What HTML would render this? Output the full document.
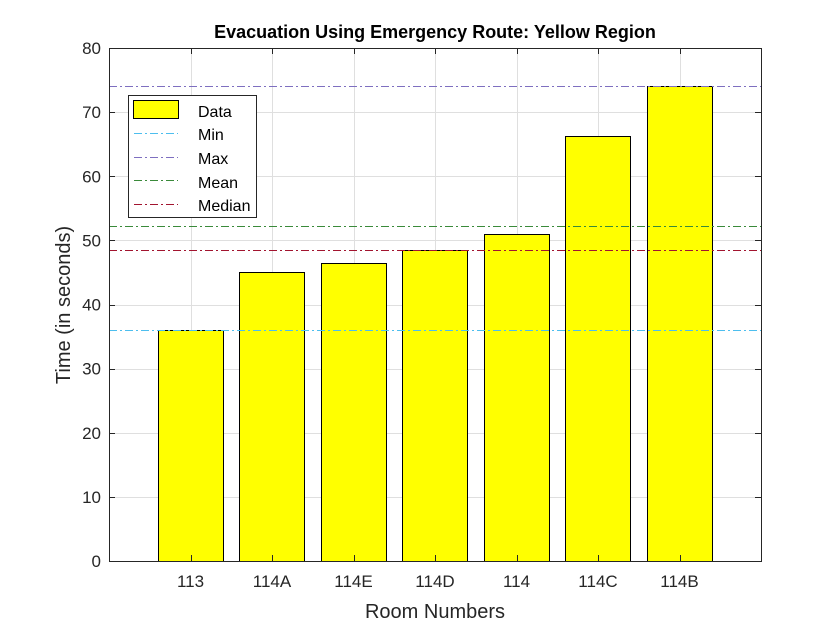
<!DOCTYPE html>
<html><head><meta charset="utf-8"><style>body{margin:0;background:#fff}svg text{font-family:"Liberation Sans",sans-serif}</style></head>
<body>
<svg width="840" height="630" xmlns="http://www.w3.org/2000/svg" id="c">
<rect width="840" height="630" fill="#fff"/>
</svg>
<script>
const categories=["113","114A","114E","114D","114","114C","114B"];
const values=[36.1,45.1,46.4,48.5,51.0,66.2,74.1];
const yTicks=[0,10,20,30,40,50,60,70,80];
const refNames=["Min","Max","Mean","Median"];
const refValues=[36.1,74.1,52.3,48.5];
const refColors=["#4dbeee","#7e6fc0","#3a8a3a","#a2142f"];
const L=109,R=761,T=48,B=561;
const X=i=>L+(i+1)*(R-L)/8;
const Y=v=>B-v*(B-T)/80;
const svg=document.getElementById('c');
const NS="http://www.w3.org/2000/svg";
function mk(t,a,p){const e=document.createElementNS(NS,t);for(const k in a)e.setAttribute(k,a[k]);(p||svg).appendChild(e);return e;}
mk('rect',{x:L,y:T,width:R-L,height:B-T,fill:'#fff'});
const grid=mk('g',{});


yTicks.forEach(v=>mk('line',{x1:L,x2:R,y1:Math.round(Y(v))+0.5,y2:Math.round(Y(v))+0.5,stroke:'#dfdfdf','stroke-width':1},grid));
categories.forEach((c,i)=>mk('line',{x1:Math.round(X(i))+0.5,x2:Math.round(X(i))+0.5,y1:T,y2:B,stroke:'#dfdfdf','stroke-width':1},grid));
const bw=0.8*(R-L)/8;
values.forEach((v,i)=>{const r=mk('rect',{x:Math.round(X(i)-bw/2)+0.5,y:Math.round(Y(v))+0.5,width:Math.round(bw),height:B-Math.round(Y(v)),fill:'#ffff00',stroke:'#000','stroke-width':1});

});
refValues.forEach((v,i)=>{const y=Math.round(Y(v))+0.5;const l=mk('line',{x1:L,x2:R,y1:y,y2:y,stroke:refColors[i],'stroke-width':1,'stroke-dasharray':'8 3 2 3'});

});
mk('rect',{x:L+0.5,y:T+0.5,width:R-L,height:B-T,fill:'none',stroke:'#262626','stroke-width':1});
yTicks.forEach(v=>{const y=Math.round(Y(v))+0.5;mk('line',{x1:L,x2:L+6,y1:y,y2:y,stroke:'#262626'});mk('line',{x1:R,x2:R-6,y1:y,y2:y,stroke:'#262626'});
const t=mk('text',{x:L-8,y:Y(v)+6,'text-anchor':'end','font-size':17,fill:'#262626'});t.textContent=v;

});
categories.forEach((c,i)=>{const x=Math.round(X(i))+0.5;mk('line',{x1:x,x2:x,y1:B,y2:B-6,stroke:'#262626'});mk('line',{x1:x,x2:x,y1:T,y2:T+6,stroke:'#262626'});
const t=mk('text',{x:X(i),y:B+26,'text-anchor':'middle','font-size':17,fill:'#262626'});t.textContent=c;

});
</script>
<svg style="position:absolute;left:0;top:0" width="840" height="630" xmlns="http://www.w3.org/2000/svg">
<text x="435" y="38" text-anchor="middle" font-size="18" font-weight="bold" fill="#000">Evacuation Using Emergency Route: Yellow Region</text>
<text x="435" y="618" text-anchor="middle" font-size="20" fill="#262626">Room Numbers</text>
<text transform="translate(70,305) rotate(-90)" text-anchor="middle" font-size="20" fill="#262626">Time (in seconds)</text>
<g>
<rect x="128.5" y="95.5" width="128" height="122" fill="#fff" stroke="#262626"/>
<rect x="133.5" y="100.5" width="45" height="18" fill="#ffff00" stroke="#000"/>
<line x1="134" x2="178" y1="133.5" y2="133.5" stroke="#4dbeee" stroke-dasharray="8 3 2 3"/>
<line x1="134" x2="178" y1="157.5" y2="157.5" stroke="#7e6fc0" stroke-dasharray="8 3 2 3"/>
<line x1="134" x2="178" y1="180.5" y2="180.5" stroke="#3a8a3a" stroke-dasharray="8 3 2 3"/>
<line x1="134" x2="178" y1="204.5" y2="204.5" stroke="#a2142f" stroke-dasharray="8 3 2 3"/>
<g font-size="16" fill="#000">
<text x="198" y="117">Data</text><text x="198" y="140">Min</text><text x="198" y="164">Max</text><text x="198" y="188">Mean</text><text x="198" y="211">Median</text>
</g></g>
</svg>
</body></html>
